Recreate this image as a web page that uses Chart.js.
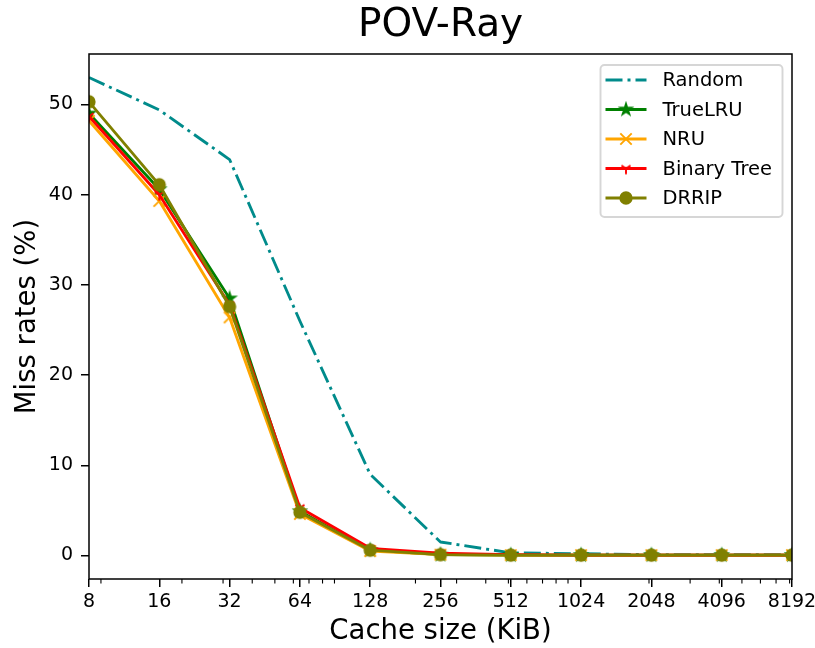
<!DOCTYPE html>
<html>
<head>
<meta charset="utf-8">
<script src="https://cdn.jsdelivr.net/npm/chart.js@4.4.1/dist/chart.umd.min.js"></script>
<style>
  body { margin: 0; background: #fff; }
  #wrap { width: 815px; height: 648px; }
</style>
</head>
<body>
<div id="wrap"><canvas id="povChart" width="815" height="648"></canvas></div>
<script>
// Valeurs (taux d'échec en %)
const cacheSizes = [8, 16, 32, 64, 128, 256, 512, 1024, 2048, 4096, 8192];
const randomRates = [53.0, 49.4, 43.9, 26.0, 9.0, 1.5, 0.3, 0.2, 0.1, 0.1, 0.1];
const trueLRURates = [49.0, 40.6, 28.5, 4.9, 0.6, 0.1, 0.05, 0.05, 0.05, 0.05, 0.05];
const nruRates = [48.2, 39.3, 26.4, 4.6, 0.5, 0.1, 0.05, 0.05, 0.05, 0.05, 0.05];
const binaryTreeRates = [48.7, 40.0, 27.8, 5.3, 0.8, 0.25, 0.1, 0.05, 0.05, 0.05, 0.05];
const drripRates = [50.3, 41.1, 27.6, 4.8, 0.6, 0.1, 0.05, 0.05, 0.05, 0.05, 0.05];

const yTicks = [0, 10, 20, 30, 40, 50];
const xTicks = [8, 16, 32, 64, 128, 256, 512, 1024, 2048, 4096, 8192];
const xMinorTicks = [9, 20, 30, 40, 50, 60, 70, 80, 90, 200, 300, 400, 500, 600, 700, 800, 900,
                     2000, 3000, 4000, 5000, 6000, 7000, 8000];
const chartTitle = 'POV-Ray';

Chart.defaults.font.family = "'DejaVu Sans', sans-serif";
Chart.defaults.color = '#000';

// Petits canvas pour les marqueurs
function makeMarker(drawFn) {
  const c = document.createElement('canvas');
  c.width = 18; c.height = 18;
  const ctx = c.getContext('2d');
  ctx.translate(9, 9);
  drawFn(ctx);
  return c;
}

const MS = 5.7;   // demi-taille du marqueur
const MEW = 1.9;  // épaisseur du contour

const starMarker = makeMarker(ctx => {
  ctx.beginPath();
  for (let i = 0; i < 10; i++) {
    const r = i % 2 === 0 ? MS : MS * 0.382;
    const a = -Math.PI / 2 + i * Math.PI / 5;
    ctx.lineTo(r * Math.cos(a), r * Math.sin(a));
  }
  ctx.closePath();
  ctx.fillStyle = '#008000';
  ctx.strokeStyle = '#008000';
  ctx.lineWidth = MEW;
  ctx.lineJoin = 'miter';
  ctx.fill();
  ctx.stroke();
});

const xMarker = makeMarker(ctx => {
  ctx.strokeStyle = '#ffa500';
  ctx.lineWidth = MEW;
  ctx.beginPath();
  ctx.moveTo(-MS, -MS); ctx.lineTo(MS, MS);
  ctx.moveTo(-MS, MS); ctx.lineTo(MS, -MS);
  ctx.stroke();
});

const triMarker = makeMarker(ctx => {
  ctx.strokeStyle = '#ff0000';
  ctx.lineWidth = MEW;
  ctx.beginPath();
  ctx.moveTo(0, 0); ctx.lineTo(0, MS);
  ctx.moveTo(0, 0); ctx.lineTo(0.8 * MS, -0.5 * MS);
  ctx.moveTo(0, 0); ctx.lineTo(-0.8 * MS, -0.5 * MS);
  ctx.stroke();
});

const circleMarker = makeMarker(ctx => {
  ctx.beginPath();
  ctx.arc(0, 0, MS, 0, Math.PI * 2);
  ctx.fillStyle = '#808000';
  ctx.strokeStyle = '#808000';
  ctx.lineWidth = MEW;
  ctx.fill();
  ctx.stroke();
});

function toPoints(values) {
  return cacheSizes.map((x, i) => ({ x: x, y: values[i] }));
}

function makeDataset(label, values, color, marker, order, dash) {
  return {
    label: label,
    data: toPoints(values),
    borderColor: color,
    backgroundColor: color,
    borderWidth: 2.85,
    borderDash: dash || [],
    borderJoinStyle: 'round',
    pointStyle: marker || false,
    pointRadius: marker ? 6 : 0,
    tension: 0,
    clip: 0,
    order: order,
    legendMarker: marker
  };
}

const datasets = [
  makeDataset('Random', randomRates, '#008b8b', null, 5, [17, 5, 3, 5]),
  makeDataset('TrueLRU', trueLRURates, '#008000', starMarker, 4),
  makeDataset('NRU', nruRates, '#ffa500', xMarker, 3),
  makeDataset('Binary Tree', binaryTreeRates, '#ff0000', triMarker, 2),
  makeDataset('DRRIP', drripRates, '#808000', circleMarker, 1)
];

// Titre centré au-dessus de la zone de tracé
const axesTitle = {
  id: 'axesTitle',
  afterDraw(chart) {
    const { ctx, chartArea } = chart;
    ctx.save();
    ctx.font = "39px 'DejaVu Sans'";
    ctx.fillStyle = '#000';
    ctx.textAlign = 'center';
    ctx.textBaseline = 'middle';
    ctx.fillText(chartTitle, (chartArea.left + chartArea.right) / 2, 26);
    ctx.restore();
  }
};

// Cadre complet + graduations mineures de l'axe x
const framePlugin = {
  id: 'frame',
  afterDatasetsDraw(chart) {
    const { ctx, chartArea } = chart;
    const xs = chart.scales.x;
    ctx.save();
    ctx.strokeStyle = '#000';
    ctx.lineWidth = 1.1;
    ctx.beginPath();
    xMinorTicks.forEach(v => {
      const px = xs.getPixelForValue(v);
      ctx.moveTo(px, chartArea.bottom);
      ctx.lineTo(px, chartArea.bottom + 4.5);
    });
    ctx.stroke();
    ctx.lineWidth = 1.5;
    ctx.strokeRect(chartArea.left, chartArea.top,
                   chartArea.right - chartArea.left, chartArea.bottom - chartArea.top);
    ctx.restore();
  }
};

// Légende dessinée dans la zone du graphique (en haut à droite)
const insideLegend = {
  id: 'insideLegend',
  afterDraw(chart) {
    const { ctx, chartArea } = chart;
    const right = chartArea.right - 9.5;
    const top = chartArea.top + 11;
    const w = 182, h = 152;
    const left = right - w;
    ctx.save();
    ctx.beginPath();
    ctx.roundRect(left, top, w, h, 4);
    ctx.fillStyle = 'rgba(255,255,255,0.8)';
    ctx.fill();
    ctx.strokeStyle = 'rgba(204,204,204,0.8)';
    ctx.lineWidth = 1.9;
    ctx.stroke();

    ctx.font = "19.5px 'DejaVu Sans'";
    ctx.textBaseline = 'middle';
    ctx.textAlign = 'left';
    chart.data.datasets.forEach((ds, i) => {
      const y = top + 15 + i * 29.5;
      const x0 = left + 5, x1 = left + 46;
      ctx.strokeStyle = ds.borderColor;
      ctx.lineWidth = ds.borderWidth;
      ctx.setLineDash(ds.borderDash);
      ctx.beginPath();
      ctx.moveTo(x0, y);
      ctx.lineTo(x1, y);
      ctx.stroke();
      ctx.setLineDash([]);
      if (ds.legendMarker) {
        ctx.drawImage(ds.legendMarker, (x0 + x1) / 2 - 9, y - 9);
      }
      ctx.fillStyle = '#000';
      ctx.fillText(ds.label, left + 62, y + 1);
    });
    ctx.restore();
  }
};

new Chart(document.getElementById('povChart'), {
  type: 'line',
  data: { datasets: datasets },
  plugins: [framePlugin, insideLegend, axesTitle],
  options: {
    responsive: false,
    animation: false,
    events: [],
    layout: { padding: { left: 0, right: 23, top: 54, bottom: 0 } },
    plugins: {
      legend: { display: false },
      tooltip: { enabled: false },
      title: { display: false }
    },
    scales: {
      x: {
        type: 'logarithmic',
        min: 8,
        max: 8192,
        afterBuildTicks: scale => { scale.ticks = xTicks.map(v => ({ value: v })); },
        afterFit: scale => {
          scale.height = 69;
          scale.paddingLeft = 0;
          scale.paddingRight = 0;
        },
        ticks: {
          font: { size: 19 },
          color: '#000',
          padding: 4,
          maxRotation: 0,
          autoSkip: false,
          callback: v => String(v)
        },
        grid: { drawOnChartArea: false, drawTicks: true, tickLength: 8, color: '#000', lineWidth: 1.5 },
        border: { display: false },
        title: {
          display: true,
          text: 'Cache size (KiB)',
          color: '#000',
          font: { size: 27.5 },
          padding: { top: 0, bottom: 0 }
        }
      },
      y: {
        type: 'linear',
        min: -2.6,
        max: 55.6,
        afterBuildTicks: scale => { scale.ticks = yTicks.map(v => ({ value: v })); },
        afterFit: scale => {
          scale.width = 89;
          scale.paddingTop = 0;
          scale.paddingBottom = 0;
        },
        ticks: { font: { size: 19 }, color: '#000', padding: 8 },
        grid: { drawOnChartArea: false, drawTicks: true, tickLength: 8, color: '#000', lineWidth: 1.5 },
        border: { display: false },
        title: {
          display: true,
          text: 'Miss rates (%)',
          color: '#000',
          font: { size: 27.5 },
          padding: { top: 11, bottom: 0 }
        }
      }
    }
  }
});
</script>
</body>
</html>
